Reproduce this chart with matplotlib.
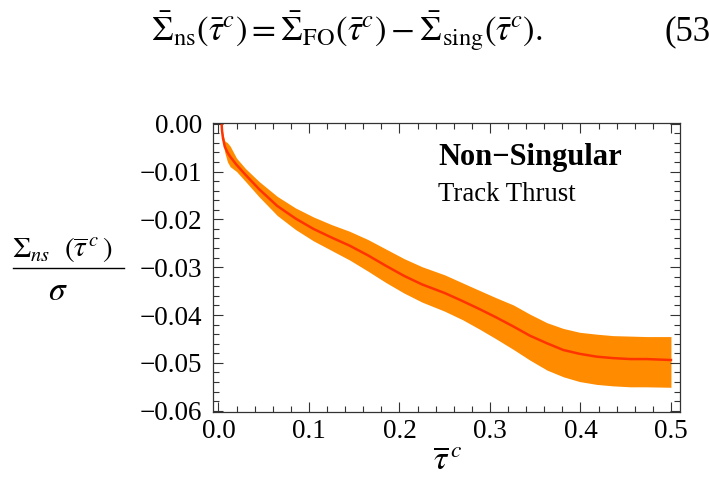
import matplotlib
matplotlib.use("Agg")
import matplotlib.pyplot as plt
from matplotlib.lines import Line2D
from matplotlib.ticker import MultipleLocator

plt.rcParams['font.family'] = ['Liberation Serif', 'DejaVu Serif']
plt.rcParams['mathtext.fontset'] = 'stix'

# ---- data ----
tau = [0.0035, 0.004, 0.005, 0.007, 0.010, 0.013, 0.020, 0.030, 0.045, 0.065,
       0.085, 0.105, 0.125, 0.145, 0.165, 0.185, 0.205, 0.225, 0.250, 0.270,
       0.289, 0.307, 0.326, 0.344, 0.363, 0.381, 0.399, 0.418, 0.436, 0.455,
       0.473, 0.500]
central = [0.0000, -0.0015, -0.0030, -0.0048, -0.0060, -0.0069, -0.0086, -0.0107,
           -0.0137, -0.0172, -0.0198, -0.0220, -0.0238, -0.0255, -0.0275, -0.0297,
           -0.0318, -0.0336, -0.0354, -0.0371, -0.0388, -0.0405, -0.0424, -0.0443,
           -0.0459, -0.0473, -0.0481, -0.0487, -0.0490, -0.0492, -0.0492, -0.0494]
upper = [0.0000, -0.0010, -0.0022, -0.0036, -0.0040, -0.0047, -0.0072, -0.0094,
         -0.0121, -0.0152, -0.0176, -0.0195, -0.0211, -0.0225, -0.0242, -0.0262,
         -0.0282, -0.0299, -0.0316, -0.0333, -0.0349, -0.0364, -0.0379, -0.0398,
         -0.0416, -0.0428, -0.0436, -0.0440, -0.0443, -0.0444, -0.0445, -0.0445]
lower = [-0.0004, -0.0020, -0.0038, -0.0060, -0.0080, -0.0090, -0.0100, -0.0121,
         -0.0153, -0.0192, -0.0221, -0.0245, -0.0265, -0.0285, -0.0308, -0.0332,
         -0.0354, -0.0373, -0.0392, -0.0410, -0.0430, -0.0450, -0.0472, -0.0494,
         -0.0515, -0.0529, -0.0539, -0.0545, -0.0548, -0.0550, -0.0550, -0.0551]
xticks = [0.0, 0.1, 0.2, 0.3, 0.4, 0.5]
yticks = [0.00, -0.01, -0.02, -0.03, -0.04, -0.05, -0.06]

W, H = 709, 479
fig = plt.figure(figsize=(W / 100, H / 100), dpi=100)

def fx(px):
    return px / W

def fy(py):
    return 1 - py / H

ax = fig.add_axes([fx(213), fy(411.7), fx(680) - fx(213), fy(122.7) - fy(411.7)])
ax.fill_between(tau, lower, upper, color='#FF8C00', linewidth=0)
ax.plot(tau, central, color='#FF3300', lw=1.8)

ax.set_xlim(-0.006, 0.51)
ax.set_ylim(-0.0602, 0.0002)
ax.set_xticks(xticks)
ax.set_xticklabels([f"{v:.1f}" for v in xticks])
ax.set_yticks(yticks)
ax.set_yticklabels([f"{v:.2f}".replace('-', '\u2212') for v in yticks])
ax.xaxis.set_minor_locator(MultipleLocator(0.02))
ax.yaxis.set_minor_locator(MultipleLocator(0.002))
ax.tick_params(which='both', direction='in', top=True, right=True,
               color='#333333', width=0.8, labelsize=19.5)
ax.tick_params(axis='y', pad=8)
ax.tick_params(axis='x', pad=5)
ax.tick_params(which='major', length=7)
ax.tick_params(which='minor', length=4)
for s in ax.spines.values():
    s.set_color('#333333')
    s.set_linewidth(0.9)

ax.text(0.482, 0.881, 'Non\u2212Singular', transform=ax.transAxes, fontsize=22,
        fontweight='bold', ha='left', va='center')
ax.text(0.482, 0.753, 'Track Thrust', transform=ax.transAxes, fontsize=19.3,
        ha='left', va='center')

# y label as a fraction
fig.text(fx(62), fy(250), r'$\Sigma_{ns}\ \ (\overline{\tau}^{\,c}\,)$', fontsize=21,
         ha='center', va='center')
fig.add_artist(Line2D([fx(12.7), fx(124)], [fy(268.3), fy(268.3)],
                      color='black', lw=1.0))
fig.text(fx(58), fy(292), r'$\sigma$', fontsize=24, ha='center', va='center')

# x label
fig.text(fx(447), fy(461), r'$\overline{\tau}^{\,c}$', fontsize=24,
         ha='center', va='center')

# equation above the figure
fig.text(fx(151), fy(40),
         r'$\bar{\Sigma}_{\rm ns}(\bar{\tau}^c) = \bar{\Sigma}_{\rm FO}(\bar{\tau}^c) - \bar{\Sigma}_{\rm sing}(\bar{\tau}^c).$',
         fontsize=25, ha='left', va='baseline')
fig.text(fx(665), fy(40), '(53)', fontsize=25, ha='left', va='baseline')

fig.savefig('out.png', dpi=100)
